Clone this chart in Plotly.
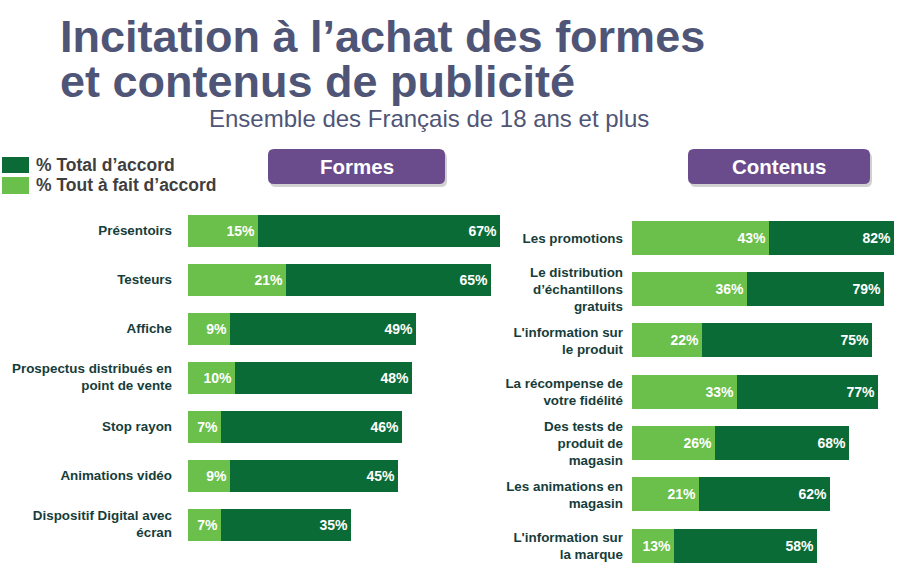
import plotly.graph_objects as go

W, H = 907, 568

# ---- data ----
formes_labels = ["Présentoirs", "Testeurs", "Affiche", "Prospectus distribués en<br>point de vente",
                 "Stop rayon", "Animations vidéo", "Dispositif Digital avec<br>écran"]
formes_total = [67, 65, 49, 48, 46, 45, 35]
formes_tout = [15, 21, 9, 10, 7, 9, 7]

contenus_labels = ["Les promotions", "Le distribution<br>d’échantillons<br>gratuits",
                   "L'information sur<br>le produit", "La récompense de<br>votre fidélité",
                   "Des tests de<br>produit de<br>magasin", "Les animations en<br>magasin",
                   "L'information sur<br>la marque"]
contenus_total = [82, 79, 75, 77, 68, 62, 58]
contenus_tout = [43, 36, 22, 33, 26, 21, 13]

title_line1 = "Incitation à l’achat des formes"
title_line2 = "et contenus de publicité"
subtitle = "Ensemble des Français de 18 ans et plus"
legend_total = "% Total d’accord"
legend_tout = "% Tout à fait d’accord"
panel_titles = ["Formes", "Contenus"]

DARK = "#0b6b37"
LIGHT = "#6bbf4b"
PURPLE = "#6a4b8b"
TITLE_C = "#4f5577"
LABEL_C = "#163d3a"
FONT = "Liberation Sans, Arial, sans-serif"


def px(x):
    return x / W


def py(y):
    return 1 - y / H


fig = go.Figure()

bar_text = dict(color="white", size=14, family=FONT, weight="bold")

for labels, total, tout, xa, ya, wd in [
    (formes_labels, formes_total, formes_tout, "x", "y", 0.653),
    (contenus_labels, contenus_total, contenus_tout, "x2", "y2", 0.66),
]:
    fig.add_trace(go.Bar(
        y=labels, x=total, orientation="h", marker=dict(color=DARK, line=dict(width=0)),
        width=wd, texttemplate="%{x}%", textposition="inside", insidetextanchor="end",
        textfont=bar_text, constraintext="none", xaxis=xa, yaxis=ya,
        showlegend=False, hoverinfo="skip", name=legend_total))
    fig.add_trace(go.Bar(
        y=labels, x=tout, orientation="h", marker=dict(color=LIGHT, line=dict(width=0)),
        width=wd, texttemplate="%{x}%", textposition="inside", insidetextanchor="end",
        textfont=bar_text, constraintext="none", xaxis=xa, yaxis=ya,
        showlegend=False, hoverinfo="skip", name=legend_tout))

tickfont = dict(family=FONT, size=13.4, color=LABEL_C, weight="bold")

fig.update_layout(
    width=W, height=H, margin=dict(l=0, r=0, t=0, b=0),
    paper_bgcolor="white", plot_bgcolor="rgba(0,0,0,0)",
    barmode="overlay", bargap=0, showlegend=False,
    xaxis=dict(domain=[px(188), px(500)], range=[0, 67], visible=False, fixedrange=True),
    yaxis=dict(domain=[py(548.5), py(205.5)], autorange="reversed", anchor="x",
               showgrid=False, zeroline=False, showline=False, ticks="",
               tickfont=tickfont, ticklabelstandoff=15),
    xaxis2=dict(domain=[px(632), px(894)], range=[0, 82], visible=False, anchor="y2", fixedrange=True),
    yaxis2=dict(domain=[0, py(212.3)], range=[6.43, -0.5], anchor="x2",
                showgrid=False, zeroline=False, showline=False, ticks="",
                tickfont=tickfont, ticklabelstandoff=8),
)


def rrect(x0, y0, x1, y1, r):
    rx, ry = r / W, r / H
    X0, X1 = px(x0), px(x1)
    Y0, Y1 = py(y0), py(y1)  # Y0 top (larger), Y1 bottom
    return (f"M {X0+rx},{Y0} L {X1-rx},{Y0} Q {X1},{Y0} {X1},{Y0-ry} "
            f"L {X1},{Y1+ry} Q {X1},{Y1} {X1-rx},{Y1} L {X0+rx},{Y1} "
            f"Q {X0},{Y1} {X0},{Y1+ry} L {X0},{Y0-ry} Q {X0},{Y0} {X0+rx},{Y0} Z")


shapes = []
boxes = [(268, 149, 445, 184), (688, 149, 870, 184)]
for (x0, y0, x1, y1) in boxes:
    shapes.append(dict(type="path", xref="paper", yref="paper",
                       path=rrect(x0 + 2, y0 + 3, x1 + 2, y1 + 3, 6),
                       fillcolor="rgba(0,0,0,0.18)", line=dict(width=0), layer="below"))
    shapes.append(dict(type="path", xref="paper", yref="paper",
                       path=rrect(x0, y0, x1, y1, 6),
                       fillcolor=PURPLE, line=dict(width=0), layer="below"))

# legend squares
shapes.append(dict(type="rect", xref="paper", yref="paper", x0=px(2), x1=px(29),
                   y0=py(173), y1=py(157), fillcolor=DARK, line=dict(width=0)))
shapes.append(dict(type="rect", xref="paper", yref="paper", x0=px(2), x1=px(29),
                   y0=py(194), y1=py(177), fillcolor=LIGHT, line=dict(width=0)))

annotations = [
    dict(text=title_line1, x=px(58), y=py(64), xref="paper", yref="paper",
         xanchor="left", yanchor="bottom", showarrow=False,
         font=dict(family=FONT, size=45, color=TITLE_C, weight="bold")),
    dict(text=title_line2, x=px(58), y=py(109), xref="paper", yref="paper",
         xanchor="left", yanchor="bottom", showarrow=False,
         font=dict(family=FONT, size=45, color=TITLE_C, weight="bold")),
    dict(text=subtitle, x=px(207), y=py(118), xref="paper", yref="paper",
         xanchor="left", yanchor="middle", showarrow=False,
         font=dict(family=FONT, size=24, color=TITLE_C)),
    dict(text=legend_total, x=px(34), y=py(165), xref="paper", yref="paper",
         xanchor="left", yanchor="middle", showarrow=False,
         font=dict(family=FONT, size=17.5, color="#3f3f3f", weight="bold")),
    dict(text=legend_tout, x=px(34), y=py(185), xref="paper", yref="paper",
         xanchor="left", yanchor="middle", showarrow=False,
         font=dict(family=FONT, size=17.5, color="#3f3f3f", weight="bold")),
]
for (x0, y0, x1, y1), t in zip(boxes, panel_titles):
    annotations.append(dict(text=t, x=px((x0 + x1) / 2), y=py((y0 + y1) / 2),
                            xref="paper", yref="paper", xanchor="center", yanchor="middle",
                            showarrow=False,
                            font=dict(family=FONT, size=20.5, color="white", weight="bold")))

fig.update_layout(shapes=shapes, annotations=annotations)
fig.write_html("out.html", config={"displayModeBar": False},
               post_script="document.body.style.margin='0';document.body.style.padding='0';")
